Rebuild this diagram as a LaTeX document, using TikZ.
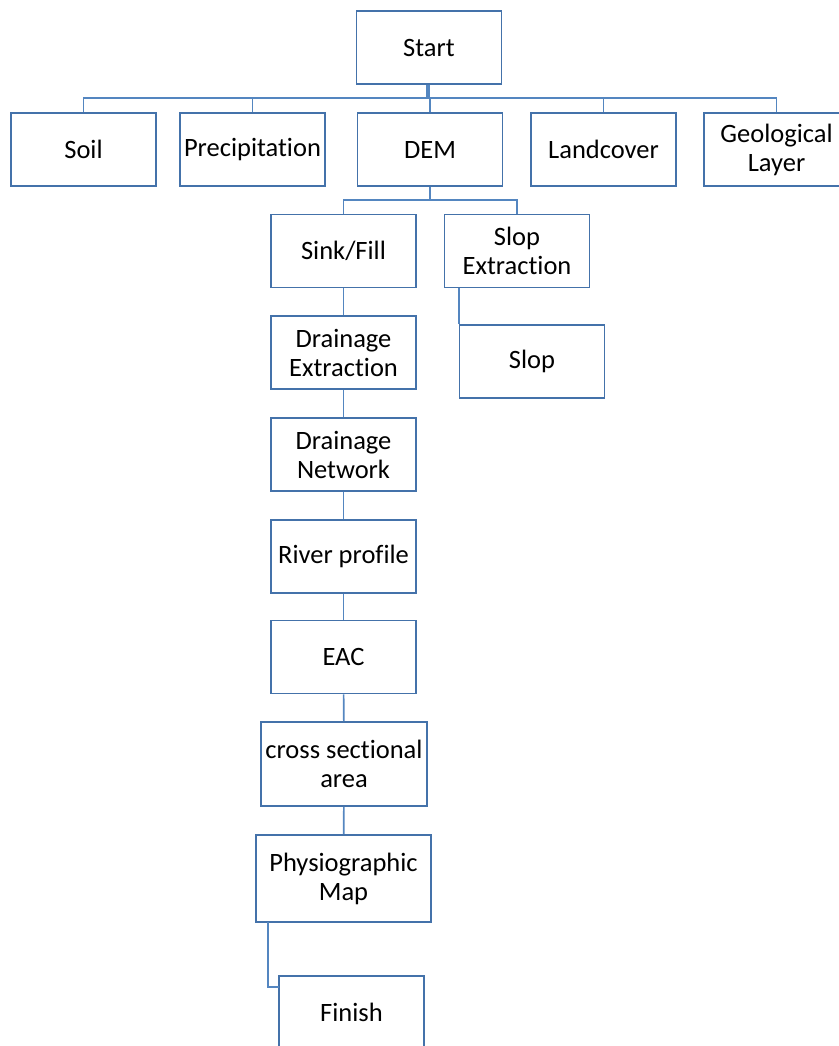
\documentclass[tikz,border=0pt]{standalone}
\usepackage{fontspec}
\setmainfont[Ligatures=NoCommon]{Carlito}
\definecolor{flowLineColor}{RGB}{84,134,192}
\definecolor{flowBoxColor}{RGB}{68,114,170}
\begin{document}
\begin{tikzpicture}[x=1pt, y=-1pt]
% Flowchart of the DEM processing steps, page units in px
\providecommand{\flowLineWidth}{1.6pt}
\providecommand{\flowBusY}{98}
\tikzset{
  flowbox/.style={draw=flowBoxColor, line width=\flowLineWidth, fill=white,
    align=center, inner sep=0pt, minimum width=145pt, minimum height=73pt,
    font=\fontsize{26.5}{29}\selectfont},
  flowlink/.style={draw=flowLineColor, line width=\flowLineWidth}
}
\useasboundingbox (0,0) rectangle (838,1046);
% Top row
\node[flowbox] (start) at (429,47.5) {Start};
\node[flowbox] (soil) at (83.5,149.5) {Soil};
\node[flowbox] (precip) at (252.5,149.5) {Precipitation};
\node[flowbox] (dem) at (430,149.5) {DEM};
\node[flowbox] (landcover) at (603.5,149.5) {Landcover};
\node[flowbox] (geo) at (776.5,149.5) {Geological\\Layer};
% DEM branches
\node[flowbox] (sink) at (343.5,251) {Sink/Fill};
\node[flowbox] (slopex) at (517,251) {Slop\\Extraction};
\node[flowbox] (slop) at (532,361.5) {Slop};
% Main chain
\node[flowbox] (drainex) at (343.5,352.5) {Drainage\\Extraction};
\node[flowbox] (drainnet) at (343.5,454.5) {Drainage\\Network};
\node[flowbox] (river) at (343.5,556.5) {River profile};
\node[flowbox] (eac) at (343.5,657) {EAC};
\node[flowbox, minimum width=166pt, minimum height=84pt] (cross) at (344,764) {cross sectional\\area};
\node[flowbox, minimum width=175pt, minimum height=87pt] (physio) at (343.5,878.5) {Physiographic\\Map};
\node[flowbox] (finish) at (351.5,1012.5) {Finish};
% Free ends of the last connector
\coordinate (physioleg) at (268,922);
\coordinate (finishin) at (279,987);
% Connectors from Start to the bus
\foreach \c in {soil,precip} {
  \draw[flowlink] ([xshift=-2pt]start.south) -- ([xshift=-2pt]start.south |- 0,\flowBusY) -| (\c.north);
}
\foreach \c in {dem,landcover,geo} {
  \draw[flowlink] (start.south) -- (start.south |- 0,\flowBusY) -| (\c.north);
}
% Connectors below DEM
\foreach \c in {sink,slopex} {
  \draw[flowlink] (dem.south) -- (dem.south |- 0,200) -| (\c.north);
}
\draw[flowlink] (slop.west |- slopex.south) -- (slop.north west);
\foreach \a/\b in {sink/drainex, drainex/drainnet, drainnet/river, river/eac, eac/cross, cross/physio} {
  \draw[flowlink] (\a) -- (\b);
}
\draw[flowlink] (physioleg) |- (finishin);
\end{tikzpicture}
\end{document}
